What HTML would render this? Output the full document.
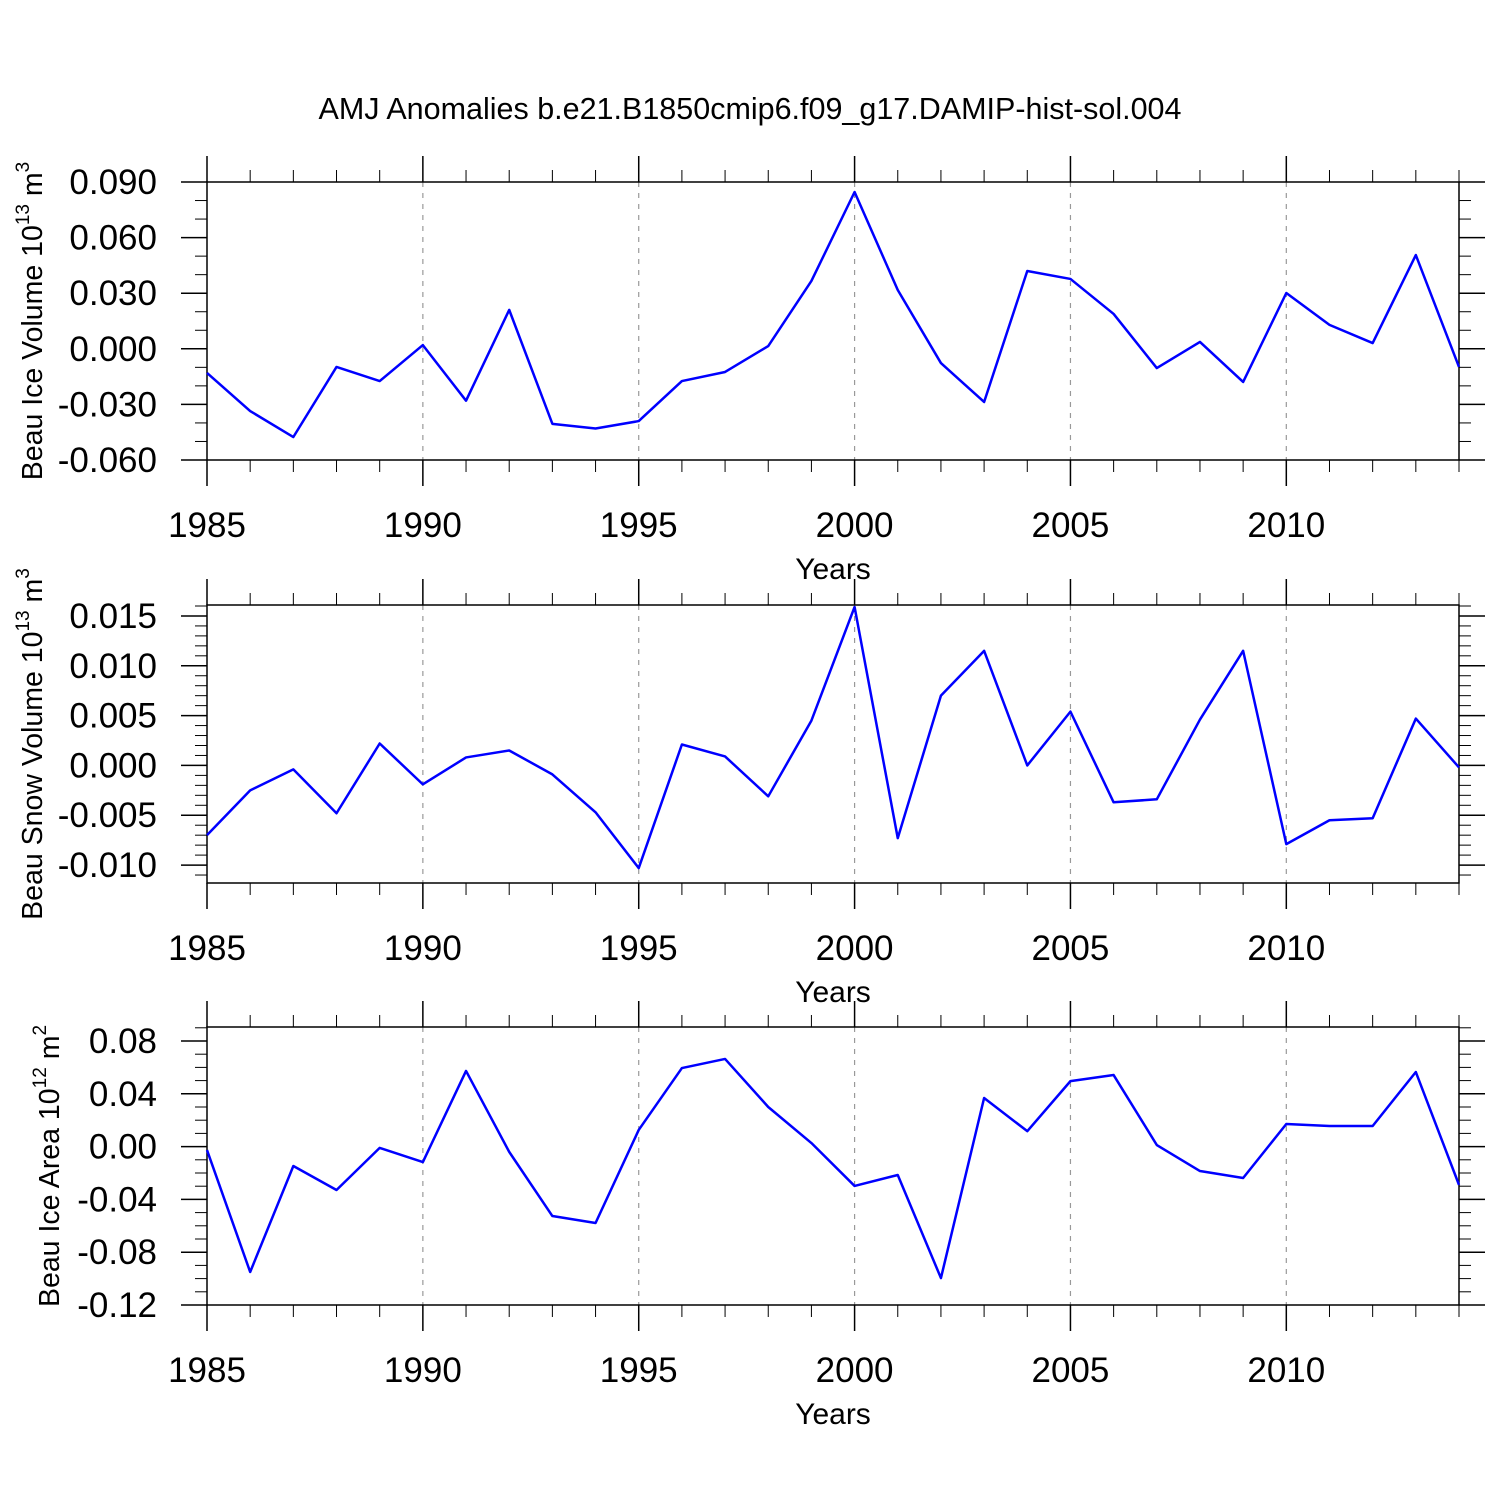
<!DOCTYPE html>
<html><head><meta charset="utf-8"><style>
html,body{margin:0;padding:0;background:#fff;}
svg{display:block;font-family:"Liberation Sans",sans-serif;}
</style></head><body>
<svg id="c" width="1500" height="1500" viewBox="0 0 1500 1500">
<text x="750" y="119" font-size="30.5" text-anchor="middle">AMJ Anomalies b.e21.B1850cmip6.f09_g17.DAMIP-hist-sol.004</text>
</svg>
<script>
const years = [1985,1986,1987,1988,1989,1990,1991,1992,1993,1994,1995,1996,1997,1998,1999,2000,2001,2002,2003,2004,2005,2006,2007,2008,2009,2010,2011,2012,2013,2014];
const iceVolume = [-0.013,-0.0336,-0.0476,-0.0098,-0.0174,0.002,-0.028,0.021,-0.0405,-0.043,-0.039,-0.0174,-0.0125,0.0015,0.0366,0.0846,0.0317,-0.0077,-0.0287,0.042,0.0377,0.0188,-0.0104,0.0037,-0.0179,0.0301,0.0129,0.0031,0.0506,-0.0098];
const snowVolume = [-0.0070,-0.0025,-0.0004,-0.0048,0.0022,-0.0019,0.0008,0.0015,-0.0009,-0.0047,-0.0103,0.0021,0.0009,-0.0031,0.0045,0.0159,-0.0073,0.0070,0.0115,0.0,0.0054,-0.0037,-0.0034,0.0046,0.0115,-0.0079,-0.0055,-0.0053,0.0047,-0.0002];
const iceArea = [-0.0026,-0.095,-0.0147,-0.0329,-0.001,-0.0117,0.0573,-0.004,-0.0526,-0.0579,0.0126,0.0595,0.0664,0.03,0.0027,-0.0298,-0.0215,-0.0996,0.0368,0.0117,0.0496,0.0542,0.0012,-0.0185,-0.0238,0.0171,0.0156,0.0156,0.0565,-0.029];
const xTicks = [1985,1990,1995,2000,2005,2010];
const ticks1 = [-0.06,-0.03,0,0.03,0.06,0.09];
const labels1 = ["-0.060","-0.030","0.000","0.030","0.060","0.090"];
const ticks2 = [-0.01,-0.005,0,0.005,0.01,0.015];
const labels2 = ["-0.010","-0.005","0.000","0.005","0.010","0.015"];
const ticks3 = [-0.12,-0.08,-0.04,0,0.04,0.08];
const labels3 = ["-0.12","-0.08","-0.04","0.00","0.04","0.08"];

const NS="http://www.w3.org/2000/svg";
const svg=document.getElementById('c');
function mk(tag,attrs,parent){const e=document.createElementNS(NS,tag);for(const k in attrs)e.setAttribute(k,attrs[k]);(parent||svg).appendChild(e);return e;}
const X0=207,X1=1459;
function xs(y){return X0+(y-1985)*(X1-X0)/29;}

function panel(cfg){
  const g=mk('g',{});
  
  
  const top=cfg.top,bot=cfg.top+278;
  const ys=v=>top+(cfg.max-v)*(bot-top)/(cfg.max-cfg.min);
  xTicks.forEach(t=>{ if(t===1985) return;
    const l=mk('line',{x1:xs(t),x2:xs(t),y1:top,y2:bot,stroke:'#999','stroke-width':1.2,'stroke-dasharray':'5,6'},g);
    
    
  });
  for(let y=1985;y<=2014;y++){
    const maj=(y%5===0);const len=maj?26:12;
    mk('line',{x1:xs(y),x2:xs(y),y1:top-len,y2:top,stroke:'#000','stroke-width':maj?1.5:1},g);
    mk('line',{x1:xs(y),x2:xs(y),y1:bot,y2:bot+len,stroke:'#000','stroke-width':maj?1.5:1},g);
  }
  xTicks.forEach(t=>{
    const tx=mk('text',{x:xs(t),y:bot+77,'font-size':35,'text-anchor':'middle'},g);
    tx.textContent=t;
    
    
  });
  const xt=mk('text',{x:833,y:bot+119,'font-size':30,'text-anchor':'middle'},g);
  xt.textContent='Years';
  
  
  const step=cfg.ticks[1]-cfg.ticks[0],ms=step/cfg.div;
  for(let k=-cfg.div;;k++){
    const v=cfg.ticks[0]+k*ms;
    if(v>cfg.max+1e-9)break;
    if(v<cfg.min-1e-9)continue;
    const maj=(((k%cfg.div)+cfg.div)%cfg.div===0);const len=maj?26:12;const y=ys(v);
    mk('line',{x1:X0-len,x2:X0,y1:y,y2:y,stroke:'#000','stroke-width':maj?1.5:1},g);
    mk('line',{x1:X1,x2:X1+len,y1:y,y2:y,stroke:'#000','stroke-width':maj?1.5:1},g);
  }
  cfg.ticks.forEach((t,i)=>{
    const tx=mk('text',{x:157,y:ys(t)+12,'font-size':35,'text-anchor':'end'},g);
    tx.textContent=cfg.labels[i];
    
    
  });
  mk('rect',{x:X0,y:top,width:X1-X0,height:bot-top,fill:'none',stroke:'#000','stroke-width':1.5},g);
  const yt=mk('text',{transform:`translate(${cfg.tx},${(top+bot)/2}) rotate(-90)`,'font-size':28.5,'text-anchor':'middle'},g);
  yt.innerHTML=cfg.title+' 10<tspan font-size="19" dy="-13">'+cfg.exp+'</tspan><tspan dy="13"> m</tspan><tspan font-size="19" dy="-13">'+cfg.unit+'</tspan>';
  
  
  const pts=years.map((y,i)=>xs(y)+','+ys(cfg.data[i])).join(' ');
  const pl=mk('polyline',{points:pts,fill:'none',stroke:'#0000ff','stroke-width':2.5,'stroke-linejoin':'round'},g);
  
  
}
panel({name:'ice-volume-panel',top:182,min:-0.06,max:0.09,div:3,ticks:ticks1,labels:labels1,data:iceVolume,title:'Beau Ice Volume',exp:'13',unit:'3',tx:42});
panel({name:'snow-volume-panel',top:605,min:-0.0118,max:0.0161,div:5,ticks:ticks2,labels:labels2,data:snowVolume,title:'Beau Snow Volume',exp:'13',unit:'3',tx:42});
panel({name:'ice-area-panel',top:1027,min:-0.12,max:0.0906,div:4,ticks:ticks3,labels:labels3,data:iceArea,title:'Beau Ice Area',exp:'12',unit:'2',tx:59});
</script>
</body></html>
